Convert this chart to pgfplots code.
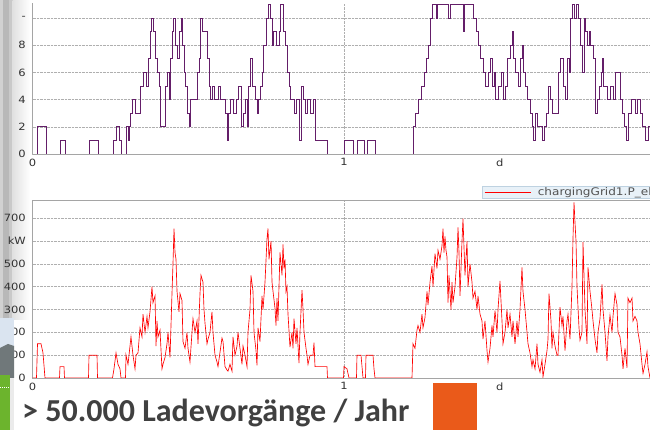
\documentclass[border=0pt]{standalone}
\usepackage{pgfplots}
\pgfplotsset{compat=1.18}
\usepackage{fontspec}
\newfontfamily\dejavu[FakeStretch=1.15]{DejaVu Sans}
\newfontfamily\carlito{Carlito}
\definecolor{purp}{RGB}{100,30,105}
\definecolor{gridc}{RGB}{175,175,175}
\definecolor{axc}{RGB}{165,165,165}
\definecolor{tickc}{RGB}{50,50,50}
\definecolor{legfill}{RGB}{232,241,248}
\definecolor{legdraw}{RGB}{190,210,225}
\definecolor{orng}{RGB}{234,90,26}
\definecolor{txtc}{RGB}{64,64,64}
\definecolor{grn}{RGB}{108,180,45}
\definecolor{panelblue}{RGB}{218,228,240}
\definecolor{darkg}{RGB}{112,120,122}
\pgfplotsset{myax/.style={
  scale only axis, width=623pt, xmin=0, xmax=2,
  xtick={0,1}, xticklabels={0,1},
  extra x ticks={1.5}, extra x tick labels={d}, extra x tick style={grid=none},
  major tick length=0pt,
  grid=major, major grid style={densely dotted, color=gridc, line width=0.5pt},
  ticklabel style={font=\dejavu\fontsize{10}{12}\selectfont, text=tickc},
  xticklabel style={anchor=north, inner sep=0pt, yshift=-4.5pt},
  yticklabel style={anchor=east, inner sep=0pt, xshift=-6.5pt},
  axis line style={color=axc, line width=0.6pt},
  /pgf/number format/assume math mode=true}}
\begin{document}
\begin{tikzpicture}[x=1pt,y=1pt]
\useasboundingbox (0,0) rectangle (650,430);
\clip (0,0) rectangle (650,430);
\fill[white] (0,0) rectangle (650,430);
% left window decoration (background)
\fill[black!18] (0,110) rectangle (3,430);
\fill[black!28] (3,110) rectangle (8.5,430);
\fill[black!21] (8.5,110) rectangle (12.5,430);
\shade[left color=black!12, right color=white] (12.5,110) rectangle (30,430);
% top chart
\begin{axis}[myax, at={(32.5pt,276pt)}, anchor=south west, height=151pt,
  axis lines*=left, ymin=0, ymax=11.1,
  ytick={0,2,4,6,8,10}, yticklabels={0,2,4,6,8,-}]
\addplot[const plot, color=purp, line width=0.65pt] coordinates {
(0,0)(0.0144,2)(0.0433,0)(0.0883,1)(0.1043,0)(0.1814,1)(0.2103,0)(0.2584,1)(0.2681,2)(0.2777,1)(0.2841,0)(0.3002,2)(0.3066,1)(0.3098,2)(0.3130,3)(0.3194,4)(0.3291,3)(0.3451,5)(0.3547,6)(0.3644,5)(0.3708,7)(0.3772,9)(0.3820,10)(0.3868,9)(0.3933,7)(0.3997,6)(0.4061,5)(0.4093,2)(0.4254,5)(0.4318,6)(0.4382,4)(0.4414,7)(0.4478,9)(0.4510,10)(0.4575,8)(0.4639,7)(0.4703,9)(0.4767,10)(0.4799,8)(0.4864,6)(0.4896,5)(0.4960,3)(0.5024,2)(0.5056,4)(0.5281,6)(0.5345,7)(0.5377,10)(0.5441,9)(0.5602,7)(0.5666,5)(0.5698,4)(0.5762,5)(0.5827,4)(0.5955,5)(0.6019,4)(0.6180,3)(0.6244,1)(0.6276,3)(0.6340,4)(0.6437,3)(0.6533,4)(0.6597,5)(0.6693,2)(0.6758,3)(0.6822,4)(0.6886,2)(0.6918,5)(0.6982,7)(0.7047,5)(0.7143,4)(0.7207,3)(0.7239,4)(0.7303,5)(0.7368,6)(0.7400,8)(0.7496,10)(0.7560,11)(0.7624,10)(0.7689,8)(0.7721,9)(0.7817,8)(0.7913,9)(0.7945,11)(0.8042,9)(0.8106,8)(0.8170,6)(0.8234,5)(0.8266,4)(0.8395,3)(0.8459,4)(0.8555,1)(0.8620,5)(0.8684,4)(0.8748,3)(0.8812,4)(0.8909,3)(0.9005,4)(0.9069,1)(0.9454,0)(1.0000,1)(1.0289,0)(1.0417,1)(1.0642,0)(1.0738,1)(1.0995,0)(1.2215,2)(1.2279,3)(1.2376,4)(1.2472,5)(1.2568,6)(1.2632,7)(1.2697,8)(1.2761,10)(1.2825,11)(1.2953,10)(1.2986,11)(1.3339,10)(1.3403,11)(1.3820,9)(1.3852,11)(1.4141,10)(1.4238,9)(1.4302,8)(1.4366,7)(1.4462,6)(1.4526,5)(1.4623,6)(1.4687,7)(1.4751,5)(1.4815,6)(1.4848,4)(1.4944,5)(1.5040,6)(1.5104,4)(1.5169,5)(1.5233,7)(1.5329,8)(1.5393,9)(1.5425,7)(1.5490,6)(1.5586,5)(1.5650,7)(1.5714,8)(1.5746,6)(1.5811,5)(1.5875,4)(1.5971,3)(1.6035,2)(1.6067,1)(1.6132,3)(1.6196,2)(1.6356,1)(1.6421,2)(1.6485,3)(1.6549,5)(1.6613,4)(1.6677,3)(1.6870,6)(1.6934,7)(1.7030,5)(1.7095,4)(1.7159,7)(1.7223,6)(1.7255,10)(1.7319,11)(1.7384,10)(1.7448,11)(1.7512,10)(1.7576,8)(1.7640,6)(1.7705,10)(1.7737,9)(1.7801,8)(1.7865,9)(1.7897,8)(1.7994,7)(1.8058,3)(1.8122,4)(1.8186,5)(1.8250,6)(1.8283,7)(1.8315,5)(1.8443,4)(1.8539,5)(1.8636,4)(1.8700,6)(1.8860,4)(1.8925,3)(1.8989,2)(1.9053,1)(1.9117,3)(1.9213,4)(1.9342,3)(1.9406,4)(1.9502,3)(1.9567,2)(1.9663,1)(1.9759,2)(1.9823,0)(1.998,0)
};
\end{axis}
% bottom chart
\begin{axis}[myax, at={(32.5pt,52pt)}, anchor=south west, height=178pt,
  ymin=0, ymax=780,
  ytick={0,100,200,300,400,500,600,700}, yticklabels={0,100,200,300,400,500,kW,700},
  legend style={at={(0.7215,1.011)}, anchor=south west, fill=legfill, draw=legdraw,
    font=\dejavu\fontsize{10.5}{10.5}\selectfont, text=txtc!90,
    inner xsep=2pt, inner ysep=0pt, nodes={inner sep=1pt}},
  legend image code/.code={\draw[#1] (0pt,0pt) -- (46pt,0pt);\path (52pt,0pt);}]
\addplot[color=red, line width=0.65pt] coordinates {
(0,0)(0.0128,0)(0.0161,150)(0.0273,150)(0.0305,130)(0.0337,110)(0.0401,0)(0.0867,0)(0.0883,50)(0.1011,50)(0.1027,0)(0.1798,0)(0.1814,100)(0.2071,100)(0.2087,0)(0.2568,0)(0.2616,40)(0.2681,110)(0.2745,60)(0.2809,40)(0.2841,0)(0.2986,0)(0.3002,100)(0.3066,60)(0.3130,140)(0.3162,180)(0.3226,100)(0.3291,40)(0.3323,100)(0.3387,110)(0.3451,220)(0.3515,180)(0.3547,280)(0.3612,200)(0.3676,270)(0.3708,220)(0.3772,290)(0.3836,400)(0.3868,330)(0.3933,360)(0.3965,140)(0.3997,250)(0.4029,180)(0.4093,210)(0.4157,40)(0.4189,60)(0.4254,90)(0.4318,150)(0.4350,200)(0.4414,90)(0.4478,370)(0.4510,500)(0.4543,655)(0.4575,550)(0.4607,520)(0.4639,380)(0.4703,290)(0.4735,370)(0.4799,340)(0.4831,160)(0.4896,130)(0.4960,200)(0.4992,130)(0.5056,70)(0.5120,200)(0.5152,260)(0.5217,200)(0.5281,250)(0.5313,150)(0.5377,370)(0.5409,450)(0.5473,420)(0.5506,300)(0.5538,240)(0.5602,150)(0.5634,170)(0.5698,200)(0.5762,290)(0.5794,200)(0.5859,100)(0.5923,70)(0.5955,50)(0.6083,175)(0.6116,160)(0.6180,50)(0.6244,35)(0.6276,30)(0.6340,60)(0.6404,30)(0.6437,180)(0.6501,100)(0.6565,140)(0.6597,200)(0.6661,130)(0.6726,60)(0.6758,140)(0.6822,100)(0.6886,50)(0.6918,200)(0.6982,300)(0.7014,450)(0.7079,380)(0.7111,200)(0.7175,120)(0.7207,55)(0.7239,220)(0.7303,160)(0.7368,360)(0.7400,300)(0.7464,420)(0.7528,610)(0.7560,655)(0.7592,520)(0.7657,600)(0.7689,420)(0.7721,380)(0.7785,305)(0.7817,230)(0.7849,350)(0.7881,250)(0.7945,550)(0.8010,450)(0.8042,585)(0.8074,480)(0.8106,520)(0.8138,380)(0.8170,400)(0.8202,280)(0.8266,135)(0.8331,200)(0.8363,130)(0.8395,260)(0.8459,150)(0.8491,220)(0.8555,65)(0.8587,200)(0.8652,385)(0.8684,300)(0.8716,200)(0.8780,130)(0.8812,100)(0.8844,60)(0.8909,100)(0.9005,100)(0.9037,155)(0.9069,50)(0.9454,50)(0.9470,0)(0.9984,0)(1.0000,50)(1.0096,40)(1.0161,0)(1.0401,0)(1.0417,100)(1.0546,100)(1.0578,50)(1.0610,0)(1.0690,0)(1.0706,100)(1.0931,100)(1.0963,40)(1.0995,0)(1.2183,0)(1.2215,150)(1.2279,130)(1.2343,210)(1.2376,230)(1.2440,200)(1.2504,280)(1.2536,220)(1.2600,265)(1.2665,380)(1.2697,320)(1.2761,420)(1.2825,490)(1.2857,400)(1.2921,545)(1.2986,480)(1.3018,560)(1.3082,520)(1.3146,580)(1.3178,655)(1.3210,550)(1.3242,620)(1.3274,560)(1.3307,530)(1.3339,330)(1.3371,450)(1.3435,300)(1.3467,420)(1.3499,330)(1.3563,400)(1.3628,530)(1.3660,660)(1.3692,550)(1.3724,360)(1.3788,600)(1.3820,698)(1.3884,450)(1.3949,600)(1.3981,400)(1.4045,500)(1.4109,420)(1.4141,350)(1.4205,380)(1.4270,300)(1.4302,360)(1.4366,280)(1.4430,250)(1.4462,170)(1.4526,250)(1.4591,120)(1.4623,70)(1.4687,130)(1.4751,230)(1.4783,180)(1.4848,295)(1.4912,200)(1.4944,300)(1.5008,425)(1.5072,250)(1.5104,150)(1.5169,200)(1.5233,300)(1.5265,220)(1.5329,280)(1.5393,180)(1.5425,250)(1.5490,150)(1.5554,250)(1.5586,180)(1.5650,300)(1.5714,485)(1.5746,380)(1.5811,300)(1.5875,200)(1.5907,150)(1.5971,110)(1.6035,50)(1.6067,80)(1.6132,40)(1.6196,150)(1.6228,60)(1.6292,25)(1.6356,80)(1.6388,5)(1.6453,60)(1.6517,120)(1.6549,170)(1.6581,370)(1.6645,250)(1.6677,130)(1.6709,200)(1.6774,140)(1.6838,100)(1.6870,100)(1.6934,310)(1.6998,230)(1.7030,270)(1.7095,120)(1.7159,250)(1.7191,280)(1.7255,170)(1.7319,400)(1.7352,615)(1.7384,770)(1.7416,680)(1.7448,600)(1.7480,400)(1.7544,220)(1.7576,165)(1.7640,200)(1.7673,595)(1.7737,300)(1.7801,150)(1.7833,485)(1.7897,380)(1.7961,300)(1.7994,250)(1.8058,170)(1.8122,110)(1.8154,200)(1.8218,260)(1.8283,410)(1.8315,300)(1.8379,200)(1.8443,75)(1.8475,180)(1.8539,275)(1.8604,200)(1.8636,270)(1.8700,370)(1.8764,320)(1.8796,200)(1.8860,180)(1.8925,100)(1.8957,40)(1.9021,130)(1.9085,45)(1.9117,350)(1.9181,330)(1.9246,350)(1.9278,250)(1.9342,270)(1.9406,250)(1.9438,200)(1.9502,150)(1.9567,60)(1.9599,20)(1.9663,60)(1.9727,115)(1.9759,50)(1.9823,0)(1.998,0)
};
\addlegendentry{chargingGrid1.P\_el}
\end{axis}
% bottom-left window decoration (foreground)
\fill[panelblue] (0,80) rectangle (14,112);
\fill[darkg] (0,52) -- (0,82) -- (8,86) -- (14,84) -- (14,52) -- cycle;
\fill[black!8] (10,0) rectangle (14,52);
\fill[grn] (0,0) rectangle (10,55);
\draw[white, densely dotted, line width=1pt] (0,42) -- (10,42);
% slide text
\node[anchor=base west, inner sep=0pt, text=txtc, font=\carlito\bfseries\fontsize{32}{32}\selectfont] at (22,8) {> 50.000 Ladevorgänge / Jahr};
\fill[orng] (433,0) rectangle (477,47);
\end{tikzpicture}
\end{document}
